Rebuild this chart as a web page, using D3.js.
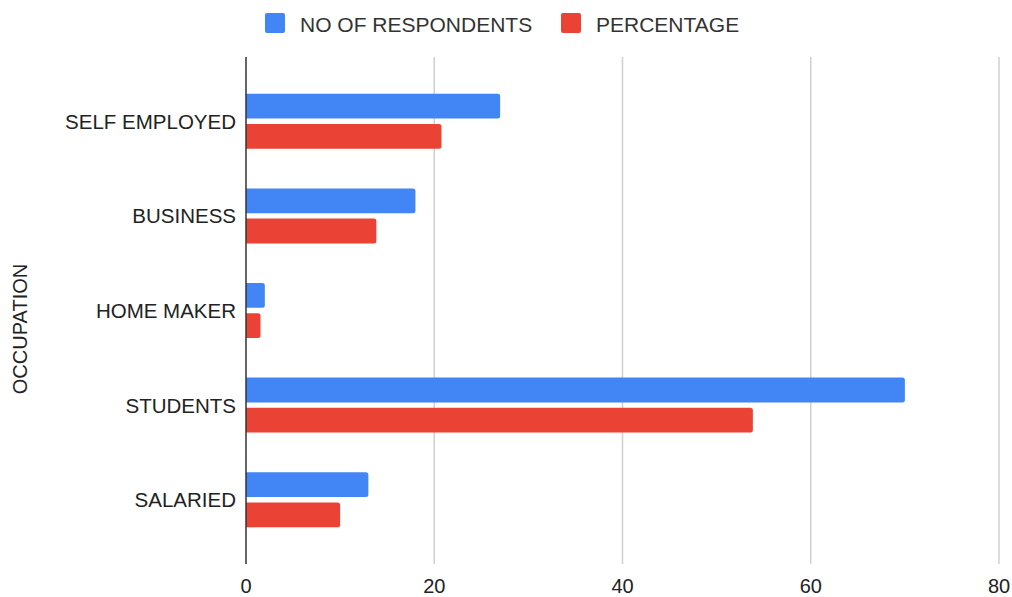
<!DOCTYPE html>
<html><head><meta charset="utf-8">
<script src="https://cdn.jsdelivr.net/npm/d3@7"></script>
<style>body{margin:0;background:#fff;} text{font-family:"Liberation Sans",Arial,sans-serif;}</style>
</head><body><svg id="c" width="1012" height="597"></svg>
<script>
const categories = ["SELF EMPLOYED","BUSINESS","HOME MAKER","STUDENTS","SALARIED"];
const respondents = [27, 18, 2, 70, 13];
const percentage = [20.77, 13.85, 1.54, 53.85, 10];
const seriesNames = ["NO OF RESPONDENTS","PERCENTAGE"];
const colors = ["#4285F4","#EA4335"];
const xTicks = [0,20,40,60,80];

const svg = d3.select("#c");
const x = d3.scaleLinear().domain([0,80]).range([246,999]);
const y = d3.scaleBand().domain(categories).range([74,547]);
const inner = d3.scaleBand().domain([0,1]).range([-27.5,27.5]).paddingInner(0.18);

// gridlines
svg.append("g").selectAll("line").data(xTicks.slice(1)).join("line")
  .attr("x1",d=>x(d)).attr("x2",d=>x(d)).attr("y1",57).attr("y2",564)
  .attr("stroke","#d0d0d0").attr("stroke-width",1.5);

const rows = categories.map((c,i)=>({c, v:[respondents[i], percentage[i]]}));
const g = svg.append("g");
rows.forEach(r=>{
  r.v.forEach((v,k)=>{
    const yy = y(r.c)+y.bandwidth()/2+inner(k);
    const h = inner.bandwidth();
    const rr = 2.5;
    g.append("path").attr("fill",colors[k])
      .attr("d",`M${x(0)},${yy}H${x(v)-rr}Q${x(v)},${yy} ${x(v)},${yy+rr}V${yy+h-rr}Q${x(v)},${yy+h} ${x(v)-rr},${yy+h}H${x(0)}Z`);
  });
});

// zero axis
svg.append("line").attr("x1",x(0)).attr("x2",x(0)).attr("y1",57).attr("y2",564)
  .attr("stroke","#333").attr("stroke-width",1.5);

// x tick labels
svg.append("g").selectAll("text").data(xTicks).join("text")
  .attr("x",d=>x(d)).attr("y",593).attr("text-anchor","middle")
  .attr("font-size",20).attr("fill","#222").text(d=>d);

// category labels
svg.append("g").selectAll("text").data(categories).join("text")
  .attr("x",236).attr("y",d=>y(d)+y.bandwidth()/2+7.5).attr("text-anchor","end")
  .attr("font-size",20.5).attr("fill","#222").text(d=>d);

// axis title
svg.append("text").attr("transform","translate(27,329) rotate(-90)")
  .attr("text-anchor","middle").attr("font-size",20).attr("fill","#222").text("OCCUPATION");

// legend
const leg = [{x:265,tx:300},{x:561,tx:596}];
seriesNames.forEach((n,k)=>{
  svg.append("rect").attr("x",leg[k].x).attr("y",13).attr("width",20).attr("height",20).attr("rx",2).attr("fill",colors[k]);
  svg.append("text").attr("x",leg[k].tx).attr("y",32).attr("font-size",21).attr("fill","#333").text(n);
});
</script></body></html>
